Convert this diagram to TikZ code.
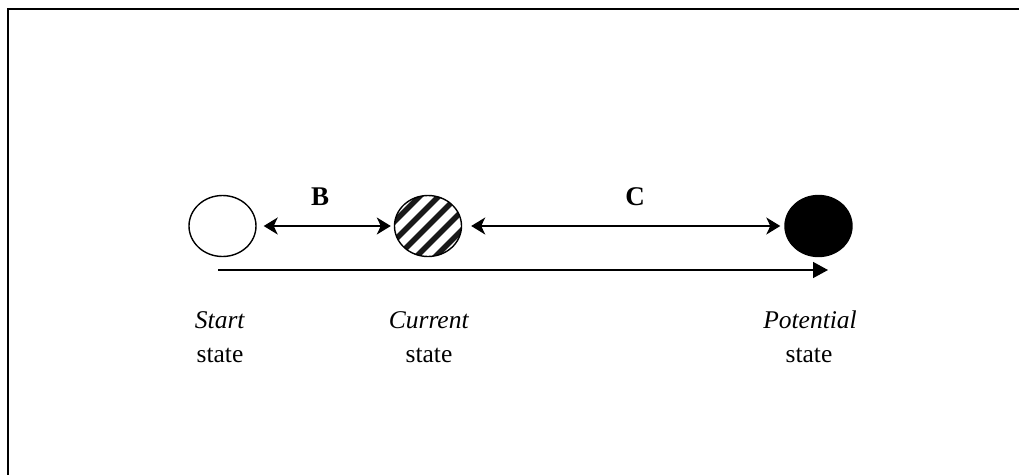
\documentclass[tikz,border=0pt]{standalone}
\usepackage{fontspec}
\setmainfont{Liberation Serif}
\usetikzlibrary{shapes.geometric,arrows.meta,calc}
\begin{document}
\begin{tikzpicture}[x=1pt,y=-1pt,
  stateov/.style={ellipse, draw, line width=1.4pt, inner sep=0pt, minimum width=67pt, minimum height=61pt},
  dbl/.style={line width=1.5pt, {Stealth[length=14pt,width=17pt,inset=4pt]}-{Stealth[length=14pt,width=17pt,inset=4pt]}},
  lbl/.style={font=\fontsize{25.5}{30}\selectfont, anchor=base, inner sep=0pt},
  letter/.style={font=\fontsize{27}{32}\selectfont\bfseries, anchor=base, inner sep=0pt}]
\useasboundingbox (0,0) rectangle (1019,474);
\draw[line width=2pt] (1030,9) -- (8,9) -- (8,480);
% states
\node[stateov] (start) at (222.5,226) {};
\node[stateov, path picture={
  \foreach \k in {-5,...,5}{
    \draw[line width=5.5pt, black!90]
      ($(path picture bounding box.center)+(\k*9.5,\k*9.5)+(-60,60)$) --
      ($(path picture bounding box.center)+(\k*9.5,\k*9.5)+(60,-60)$);
  }}] (current) at (428,226) {};
\node[stateov, fill=black] (potential) at (818.5,226) {};
% arrows
\draw[dbl, shorten <=7pt, shorten >=3pt] (start) -- (current);
\draw[dbl, shorten <=9pt, shorten >=4pt] (current) -- (potential);
\coordinate (bl) at (218,270);
\coordinate (br) at (828,270);
\draw[line width=1.5pt, -{Triangle[length=15pt,width=16pt]}] (bl) -- (br);
% letters
\node[letter] (B) at (320,205) {B};
\node[letter] (C) at (635,205) {C};
% labels
\node[lbl] (startname) at (220,328) {\textit{Start}};
\node[lbl] (startst) at (220,362) {state};
\node[lbl] (curname) at (429,328) {\textit{Current}};
\node[lbl] (curst) at (429,362) {state};
\node[lbl] (potname) at (810,328) {\textit{Potential}};
\node[lbl] (potst) at (809,362) {state};
\end{tikzpicture}
\end{document}
